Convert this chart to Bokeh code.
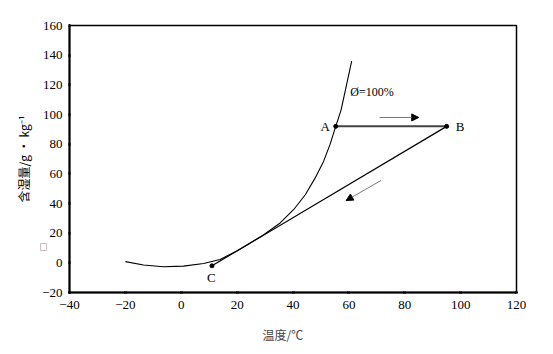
from bokeh.plotting import figure
from bokeh.models import Range1d, Label, Arrow, NormalHead, FixedTicker, LinearAxis, Title
from bokeh.embed import file_html
from bokeh.resources import INLINE

# Saturation curve (phi = 100%)
curve_t = [-20, -13.5, -6.4, 0.8, 8, 13.9, 19.9, 24.7, 29.4, 35.4, 40.2, 44.4, 47.9, 50.9, 53.3, 55.3, 57.2, 58.7, 61]
curve_d = [0.8, -1.5, -2.6, -2.2, -0.4, 2.3, 8, 13.4, 18.8, 26.9, 35.8, 45.9, 57.1, 68.2, 80, 92, 103, 116, 136]

# Process points A -> B -> C
proc_names = ["A", "B", "C"]
proc_t = [55.3, 95, 11]
proc_d = [92, 92, -2]

x_ticks = [-40, -20, 0, 20, 40, 60, 80, 100, 120]
y_ticks = [-20, 0, 20, 40, 60, 80, 100, 120, 140, 160]

NUM_FONT = "Liberation Serif"
CJK_FONT = "Noto Sans CJK SC"

p = figure(width=553, height=354, output_backend="svg", toolbar_location=None,
           x_range=Range1d(-40, 120), y_range=Range1d(-20, 160),
           min_border_left=69, min_border_right=37, min_border_top=25, min_border_bottom=61)
p.grid.visible = False
p.background_fill_color = "white"
p.border_fill_color = "white"
p.outline_line_color = "black"
p.outline_line_width = 1.5

for ax in (p.xaxis[0], p.yaxis[0]):
    ax.axis_line_width = 2
    ax.axis_line_color = "black"
    ax.major_tick_line_width = 3
    ax.major_tick_in = 1
    ax.major_tick_out = 1
    ax.minor_tick_line_color = None
    ax.major_label_text_font = NUM_FONT
    ax.major_label_text_font_size = "13px"
    ax.major_label_text_color = "black"

p.xaxis[0].ticker = FixedTicker(ticks=x_ticks)
p.yaxis[0].ticker = FixedTicker(ticks=y_ticks)
p.xaxis[0].major_label_standoff = 7
p.yaxis[0].major_label_standoff = 6

# outer left axis: carries the stray glyph box and the y title
outer = LinearAxis(ticker=FixedTicker(ticks=[11]), major_label_overrides={11: "□"},
                   axis_line_color=None, major_tick_line_color=None, minor_tick_line_color=None,
                   major_label_text_font=CJK_FONT, major_label_text_font_size="8px",
                   major_label_text_color="black",
                   major_label_standoff=-14,
                   axis_label="含湿量/g • kg⁻¹", axis_label_text_font=CJK_FONT,
                   axis_label_text_font_style="normal", axis_label_text_font_size="12px",
                   axis_label_text_color="black",
                   axis_label_standoff=5)
p.add_layout(outer, "left")

# x title, placed left of centre as in the original
p.add_layout(Title(text="温度/℃", align="left", offset=193, text_font=CJK_FONT,
                   text_font_size="12px", text_font_style="normal", standoff=24), "below")

# saturation curve
p.line(curve_t, curve_d, line_color="black", line_width=1.1)

# A-B and B-C
p.line(proc_t[0:2], proc_d[0:2], line_color="#444444", line_width=2)
p.line(proc_t[1:3], proc_d[1:3], line_color="black", line_width=1.2)
p.scatter(proc_t, proc_d, size=4, color="black")

# point labels
label_pos = [(51.5, 92), (99.8, 92), (10.8, -10)]
for name, (lx, ly) in zip(proc_names, label_pos):
    p.add_layout(Label(x=lx, y=ly, text=name, text_font=NUM_FONT, text_font_size="13px",
                       text_align="center", text_baseline="middle", text_color="black"))

p.add_layout(Label(x=60.5, y=115, text="Ø=100%", text_font=NUM_FONT, text_font_size="12px",
                   text_align="left", text_baseline="middle", text_color="black"))

# direction arrows
p.add_layout(Arrow(x_start=71, y_start=98, x_end=85, y_end=98,
                   line_color="#777777", line_width=1,
                   end=NormalHead(size=7, fill_color="black", line_color="black")))
p.add_layout(Arrow(x_start=71.5, y_start=55.5, x_end=59, y_end=42,
                   line_color="#777777", line_width=1,
                   end=NormalHead(size=7, fill_color="black", line_color="black")))

open("out.html", "w").write(file_html(p, INLINE))
